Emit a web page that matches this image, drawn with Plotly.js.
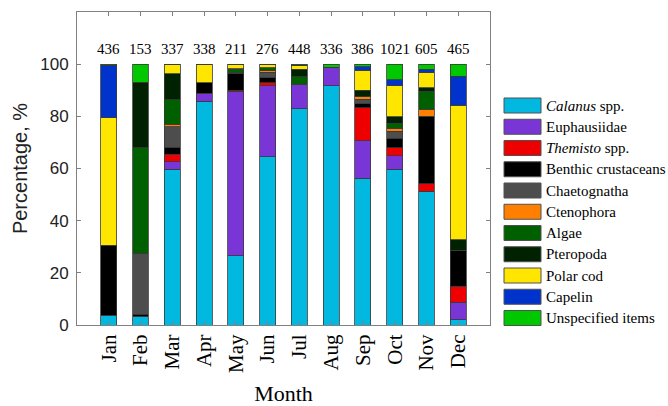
<!DOCTYPE html>
<html><head><meta charset="utf-8">
<script src="https://cdn.plot.ly/plotly-3.0.1.min.js"></script>
<style>html,body{margin:0;padding:0;background:#fff}#chart{width:668px;height:406px}</style>
</head><body><div id="chart"></div>
<script>
const months = ['Jan','Feb','Mar','Apr','May','Jun','Jul','Aug','Sep','Oct','Nov','Dec'];
const counts = [436,153,337,338,211,276,448,336,386,1021,605,465];

const calanus     = [3.8, 3.4, 59.8, 85.8, 26.6, 64.5, 83.0, 91.8, 56.2, 59.8, 51.2, 2.0];
const euphausiid  = [0,   0,   2.8,  3.0,  62.8, 27.3, 9.2,  7.1,  14.4, 5.0,  0,    6.7];
const themisto    = [0,   0,   2.8,  0,    0.6,  1.0,  0,    0,    12.7, 3.1,  3.0,  6.1];
const benthic     = [26.8,0.8, 2.7,  4.0,  6.5,  2.0,  0,    0,    1.6,  3.7,  25.9, 13.9];
const chaetognath = [0,   23.3,7.9,  0,    0.3,  2.1,  0,    0,    1.7,  2.7,  0,    0];
const ctenophora  = [0,   0,   0.9,  0,    0,    0.5,  0,    0,    1.0,  1.2,  2.7,  0];
const algae       = [0,   40.4,9.4,  0,    1.2,  1.3,  2.9,  0,    0,    1.8,  6.9,  0];
const pteropoda   = [0,   25.1,10.1, 0,    0.3,  0,    2.9,  0,    2.4,  2.5,  1.2,  4.0];
const polarCod    = [48.8,0,   3.6,  7.2,  1.7,  1.3,  1.5,  0,    7.7,  11.9, 5.9,  51.6];
const capelin     = [20.2,0,   0,    0,    0,    0,    0,    0,    1.3,  2.4,  1.2,  11.0];
const unspecified = [0.4, 7.0, 0,    0,    0,    0,    0.5,  1.1,  1.0,  5.9,  2.0,  4.7];

const seriesNames = ['<i>Calanus</i> spp.','Euphausiidae','<i>Themisto</i> spp.','Benthic crustaceans',
  'Chaetognatha','Ctenophora','Algae','Pteropoda','Polar cod','Capelin','Unspecified items'];
const seriesValues = [calanus, euphausiid, themisto, benthic, chaetognath, ctenophora, algae, pteropoda, polarCod, capelin, unspecified];
const seriesColors = ['#00B8E0','#7A35D6','#EE0000','#000000','#4D4D4D','#FF7F00','#006000','#002200','#FFE600','#0033CC','#00C800'];

const traces = seriesNames.map((n,i)=>({
  type:'bar', name:n, x:months, y:seriesValues[i], width:0.5,
  marker:{color:seriesColors[i], line:{color:'#3a3a3a', width:0.8}},
  hoverinfo:'none', showlegend:false
}));

const serif = 'Liberation Serif, Times New Roman, serif';
const sans = 'Liberation Sans, Arial, sans-serif';

const W = 668, H = 406, M = {l:77, r:178, t:12, b:81};
const pw = W - M.l - M.r, ph = H - M.t - M.b;
const px = v => (v - M.l) / pw;      // pixel -> paper x
const py = v => (H - M.b - v) / ph;  // pixel -> paper y

const annotations = months.map((m,i)=>({
  x:m, y:106, text:String(counts[i]), showarrow:false, xref:'x', yref:'y',
  yanchor:'middle', font:{family:serif, size:15, color:'#000'}
}));

// custom legend (large swatches like the original)
const shapes = [];
const legTop = 105.5, legStep = 21.25, swX0 = 504, swX1 = 541, swH = 15;
seriesNames.forEach((n,i)=>{
  const cy = legTop + i*legStep;
  shapes.push({type:'rect', xref:'paper', yref:'paper',
    x0:px(swX0), x1:px(swX1), y0:py(cy - swH/2), y1:py(cy + swH/2),
    fillcolor:seriesColors[i], line:{color:'#505050', width:1}});
  annotations.push({xref:'paper', yref:'paper', x:px(544), y:py(cy), xanchor:'left', yanchor:'middle',
    text:n, showarrow:false, font:{family:serif, size:15, color:'#000'}});
});

const layout = {
  width:W, height:H,
  margin:M,
  paper_bgcolor:'#fff', plot_bgcolor:'#fff',
  barmode:'stack',
  showlegend:false,
  xaxis:{type:'category', range:[-1, 12], showline:true, linecolor:'#808080', linewidth:1,
    mirror:'ticks', ticks:'inside', ticklen:4, tickcolor:'#808080', showgrid:false, zeroline:false,
    tickangle:-90, tickfont:{family:serif, size:21, color:'#000'},
    title:{text:'Month', font:{family:serif, size:22, color:'#000'}, standoff:15}},
  yaxis:{range:[0,120], tickvals:[0,20,40,60,80,100], showline:true, linecolor:'#808080', linewidth:1,
    mirror:'ticks', ticks:'inside', ticklen:4, tickcolor:'#808080', showgrid:false, zeroline:false,
    tickfont:{family:sans, size:17, color:'#222'}, ticklabelstandoff:4,
    title:{text:'Percentage, %', font:{family:sans, size:20, color:'#222'}, standoff:7}},
  annotations:annotations,
  shapes:shapes
};
Plotly.newPlot('chart', traces, layout, {staticPlot:true, displayModeBar:false});
</script></body></html>
